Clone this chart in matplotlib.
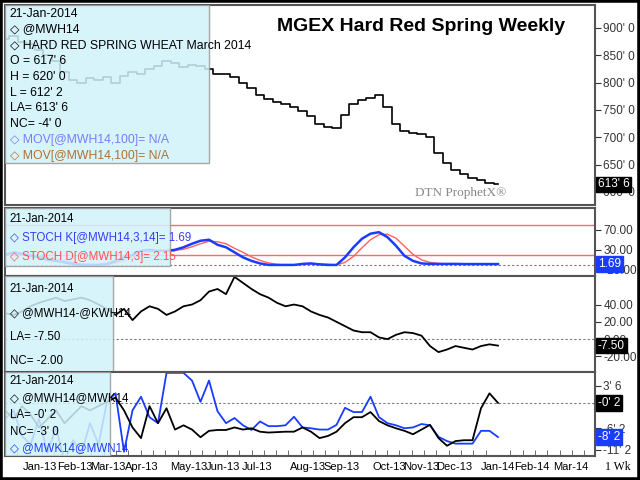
import numpy as np
import matplotlib.pyplot as plt
from matplotlib.patches import Rectangle

plt.rcParams["font.family"] = ["Liberation Sans", "DejaVu Sans"]

# weekly data, index 0 = early Dec 2012, last = 21-Jan-2014
price = [880, 885, 875, 870, 860, 850, 840, 820, 805, 800, 808, 805, 810, 800, 812,
         820, 815, 825, 830, 840, 835, 828, 833, 830, 825, 815, 815, 810, 800, 790,
         778, 770, 765, 760, 755, 748, 738, 725, 718, 716, 740, 760, 768, 772, 778,
         755, 725, 712, 708, 706, 700, 672, 652, 640, 632, 626, 622, 617, 614]
stoch_k = [20, 25, 22, 18, 15, 10, 8, 5, 2, 0, 0, 0, 2, 8, 15, 20, 28, 30, 28, 28,
           30, 35, 42, 48, 50, 40, 35, 25, 15, 8, 3, 0, 0, 0, 0, 2, 3, 1, 0, 0,
           15, 35, 52, 62, 65, 55, 38, 18, 8, 3, 2, 2, 2, 2, 1.7, 1.7, 1.7, 1.7, 1.69]
stoch_d = [22, 23, 23, 21, 18, 14, 10, 8, 5, 2, 1, 0, 1, 4, 9, 15, 21, 26, 28, 29,
           29, 31, 36, 42, 47, 46, 42, 33, 25, 16, 9, 4, 1, 0, 0, 1, 2, 2, 1, 0,
           5, 17, 34, 50, 60, 61, 53, 37, 21, 10, 5, 3, 2, 2, 2, 2, 2, 2, 2.15]
spread_kc = [30, 28, 32, 38, 42, 45, 48, 44, 46, 48, 45, 40, 35, 28, 35, 22, 32, 38,
             35, 28, 32, 38, 40, 45, 55, 58, 52, 72, 65, 58, 52, 48, 42, 38, 40, 38,
             32, 28, 25, 20, 15, 10, 8, 8, 2, 0, 5, 8, 7, 4, -8, -15, -12, -8, -10,
             -12, -8, -6, -7.5]
spread_hk = [-2, -4, -1, -3, -6, -4, -2, -5, -3, -1, -2, -1, 0, 1.0, -2, -6, -8.5, -1,
             -5, -1.5, -6.5, -5.5, -6.5, -8.3, -6.8, -6.6, -6.6, -6, -6.5, -6.2, -7,
             -7.2, -7.1, -7, -7, -6, -7, -8.5, -8, -7, -5, -3.6, -3.6, -2.4, -4.5,
             -5.5, -6.2, -6.8, -7.6, -6.5, -5.4, -8.5, -10.3, -9.2, -9, -9, -1.5, 2.0,
             -0.25]
spread_kn = [-4, -2, -8, -10, -4, -12, -6, -14, -9, -12, -5, -10, 0, 2, -11.7, -2,
             1.2, -3.6, -5, 6.8, 6.8, 6.8, 5, 0, 5, -2.2, -5, -3.8, -5.5, -6.6, -4.6,
             -5.7, -5.7, -5.5, -3.5, -6, -6.2, -6.5, -6.5, -5.4, -1.4, -2.4, -2.4, 1.2,
             -3.6, -5, -5.5, -6.2, -6, -5.2, -5.5, -8.2, -9.2, -9.8, -9.8, -9.8, -6.8,
             -6.8, -8.25]
month_labels = ["Jan-13", "Feb-13", "Mar-13", "Apr-13", "May-13", "Jun-13", "Jul-13",
                "Aug-13", "Sep-13", "Oct-13", "Nov-13", "Dec-13", "Jan-14", "Feb-14", "Mar-14"]
month_pos = [4.1, 8.2, 12.1, 16.1, 21.6, 25.6, 29.6, 35.6, 39.6, 45.2, 49.0, 52.9, 58.0, 62.0, 66.5]

weeks = np.arange(len(price))
W, H = 640, 480
XL, XR = 5, 595
XLIM = (0, (XR - XL) / 8.5)
BOX = "#d2f3fb"

fig = plt.figure(figsize=(6.4, 4.8), dpi=100)
fig.patch.set_facecolor("white")


def panel(top, bottom, ylim):
    ax = fig.add_axes([XL / W, 1 - bottom / H, (XR - XL) / W, (bottom - top) / H])
    ax.set_xlim(*XLIM)
    ax.set_ylim(*ylim)
    ax.yaxis.tick_right()
    ax.tick_params(axis="y", labelsize=8.5, length=4, direction="out", pad=2, colors="#333333")
    ax.tick_params(axis="x", length=0, labelbottom=False)
    for s in ax.spines.values():
        s.set_color("#555555")
        s.set_linewidth(1.5)
    return ax


def info_box(ax, x1, y1, lines, fs=8.3):
    # lines: (text, color)
    ax.add_patch(Rectangle((0, 1 - y1), x1, y1, transform=ax.transAxes, facecolor=BOX,
                           alpha=0.85, edgecolor="#999999", lw=1, zorder=5))
    n = len(lines)
    for i, (t, c) in enumerate(lines):
        ax.text(0.008, 1 - (i + 0.55) * y1 / n, t, transform=ax.transAxes, fontsize=fs,
                color=c, va="center", zorder=6)


def tag(ax, y, text, fc):
    ax.text(1.005, y, text, transform=ax.get_yaxis_transform(), fontsize=8.5, color="white",
            va="center", ha="left", zorder=7,
            bbox=dict(boxstyle="square,pad=0.15", fc=fc, ec=fc))


# price panel
ax1 = panel(5, 205, (576, 942))
ax1.step(weeks, price, where="mid", color="black", lw=1.2)
ax1.set_yticks([600, 650, 700, 750, 800, 850, 900])
ax1.set_yticklabels(["600' 0", "650' 0", "700' 0", "750' 0", "800' 0", "850' 0", "900' 0"])
info_box(ax1, 0.345, 0.79, [("21-Jan-2014", "black"), ("◇ @MWH14", "black"),
                            ("◇ HARD RED SPRING WHEAT March 2014", "black"),
                            ("O = 617' 6", "black"), ("H = 620' 0", "black"),
                            ("L = 612' 2", "black"), ("LA= 613' 6", "black"),
                            ("NC= -4' 0", "black"), ("◇ MOV[@MWH14,100]= N/A", "#7b7bff"),
                            ("◇ MOV[@MWH14,100]= N/A", "#b07030")], fs=8.8)
ax1.text(0.95, 0.89, "MGEX Hard Red Spring Weekly", transform=ax1.transAxes, fontsize=14,
         fontweight="bold", ha="right", va="center")
ax1.text(0.85, 0.06, "DTN ProphetX®", transform=ax1.transAxes, fontsize=9.5,
         color="#888888", ha="right", va="center", family="Liberation Serif")
tag(ax1, 613.75, "613' 6", "black")

# stochastics
ax2 = panel(208, 276, (-22, 113))
ax2.axhline(80, color="#f07070", lw=1)
ax2.axhline(20, color="#f07070", lw=1)
ax2.axhline(0, color="#777777", lw=0.8, ls=(0, (2, 2)))
ax2.plot(weeks, stoch_d, color="#ff6060", lw=1)
ax2.plot(weeks, stoch_k, color="#1a3cff", lw=1.8)
ax2.set_yticks([-10, 30, 70])
ax2.set_yticklabels(["-10.00", "30.00", "70.00"])
info_box(ax2, 0.28, 0.85, [("21-Jan-2014", "black"), ("◇ STOCH K[@MWH14,3,14]= 1.69", "#3a3aff"),
                           ("◇ STOCH D[@MWH14,3]= 2.15", "#ff5050")])
tag(ax2, 1.69, "1.69", "#1a3cff")

# KC spread
ax3 = panel(276, 372, (-38, 73))
ax3.axhline(0, color="#777777", lw=0.8, ls=(0, (2, 2)))
ax3.plot(weeks, spread_kc, color="black", lw=1.3)
ax3.set_yticks([-20, 0, 20, 40])
ax3.set_yticklabels(["-20.00", "0.00", "20.00", "40.00"])
info_box(ax3, 0.183, 1.0, [("21-Jan-2014", "black"), ("◇ @MWH14-@KWH14", "black"),
                           ("LA= -7.50", "black"), ("NC= -2.00", "black")])
tag(ax3, -7.5, "-7.50", "black")

# calendar spreads
ax4 = panel(372, 456, (-12.7, 7.0))
ax4.axhline(-0.25, color="#777777", lw=0.8, ls=(0, (2, 2)))
ax4.plot(weeks, spread_kn, color="#1a3cff", lw=1.3)
ax4.plot(weeks, spread_hk, color="black", lw=1.3)
ax4.set_yticks([3.75, -6.25, -11.25])
ax4.set_yticklabels(["3' 6", "-6' 2", "-11' 2"])
info_box(ax4, 0.178, 1.0, [("21-Jan-2014", "black"), ("◇ @MWH14@MWK14", "black"),
                           ("LA= -0' 2", "black"), ("NC= -3' 0", "black"),
                           ("◇ @MWK14@MWN14", "#1a3cff")])
tag(ax4, -0.25, "-0' 2", "black")
tag(ax4, -8.25, "-8' 2", "#1a3cff")
ax4.set_xticks(np.arange(0, XLIM[1], 1.45), minor=True)
ax4.tick_params(axis="x", which="minor", length=4, direction="in", color="#555555")
ax4.set_xticks(month_pos)
ax4.set_xticklabels(month_labels)
ax4.tick_params(axis="x", which="major", labelbottom=True, labelsize=8, pad=4, length=0)
fig.text(0.965, 0.028, "1 Wk", fontsize=8.5, ha="center", va="center", family="Liberation Serif")

fig.add_artist(Rectangle((0, 0), 1, 1, transform=fig.transFigure, fill=False,
                         ec="black", lw=4))
fig.savefig("out.png", dpi=100)
